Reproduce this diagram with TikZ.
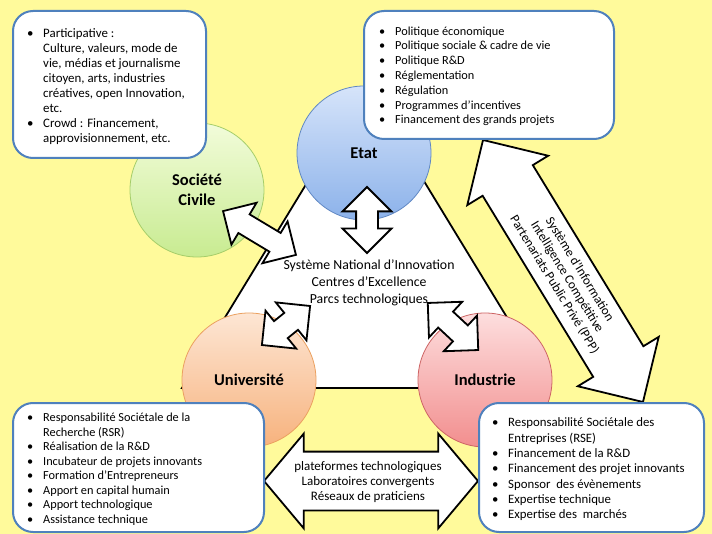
\documentclass[tikz,border=0pt]{standalone}
\usepackage{fontspec}
\setmainfont{Carlito}
\usetikzlibrary{shapes.arrows}
\definecolor{bg}{RGB}{255,250,155}
\definecolor{boxblue}{RGB}{79,129,189}
\definecolor{etatT}{RGB}{214,228,250}
\definecolor{etatB}{RGB}{140,178,234}
\definecolor{etatD}{RGB}{95,135,195}
\definecolor{socT}{RGB}{242,252,218}
\definecolor{socB}{RGB}{200,235,145}
\definecolor{socD}{RGB}{165,205,105}
\definecolor{uniT}{RGB}{253,230,212}
\definecolor{uniB}{RGB}{247,178,125}
\definecolor{uniD}{RGB}{235,160,95}
\definecolor{indT}{RGB}{253,222,222}
\definecolor{indB}{RGB}{242,142,142}
\definecolor{indD}{RGB}{205,100,100}
\newcommand{\bul}{\makebox[16pt][l]{\textbullet}}
\newcommand{\ind}{\hspace*{16pt}}
\tikzset{
  infobox/.style={draw=boxblue, line width=2pt, fill=white, rounded corners=20pt, anchor=north west, inner sep=0pt},
  listtext/.style={anchor=north west, inner sep=0pt, align=left, font=\fontsize{12.3}{14.8}\selectfont},
  circ/.style={circle, minimum size=134pt, inner sep=0pt, line width=0.8pt, align=center, font=\bfseries\fontsize{16.5}{19.5}\selectfont},
  blockarrow/.style={double arrow, draw=black, line width=1.8pt, fill=white, inner xsep=0pt, inner ysep=10pt, double arrow head extend=13.5pt, minimum width=47pt},
  bigarrow/.style={double arrow, draw=black, line width=1.8pt, fill=white, inner xsep=0pt, inner ysep=28.5pt, double arrow head extend=18pt, minimum width=93pt},
  arrowtext/.style={align=center, inner sep=0pt, font=\fontsize{13}{14.8}\selectfont},
}
\begin{document}
\begin{tikzpicture}[x=1pt,y=-1pt]
\useasboundingbox (0,0) rectangle (712,534);
\fill[bg] (0,0) rectangle (712,534);
% triangle
\coordinate (tA) at (366,86);
\coordinate (tB) at (182,388);
\coordinate (tC) at (550,388);
\draw[fill=white, line width=1.8pt] (tA) -- (tB) -- (tC) -- cycle;
% circles
\node[circ, top color=etatT, bottom color=etatB, draw=etatD] (etat) at (364,153) {Etat};
\node[circ, top color=socT, bottom color=socB, draw=socD] (soc) at (197,190) {Société\\Civile};
\node[circ, top color=uniT, bottom color=uniB, draw=uniD] (uni) at (249,380) {Université};
\node[circ, top color=indT, bottom color=indB, draw=indD] (ind) at (485,380) {Industrie};
% centre text
\node[align=center, inner sep=0pt, font=\fontsize{13.8}{17}\selectfont] (sni) at (369,283) {Système National d’Innovation\\Centres d’Excellence\\Parcs technologiques};
% small block arrows
\node[blockarrow, rotate=90, minimum height=66pt] (aE) at (367,220) {};
\node[blockarrow, rotate=-31, minimum height=85pt] (aS) at (259.5,233) {};
\node[blockarrow, rotate=39, minimum height=62pt] (aU) at (286,325.5) {};
\node[blockarrow, rotate=-43, minimum height=69pt] (aI) at (453,326.5) {};
% long arrow
\node[bigarrow, rotate=-58.6, minimum height=307pt] (aL) at (563,271) {};
\node[arrowtext, rotate=-58.6] (tL) at ([shift={(4,6)}]aL.center) {Système d’Information\\Intelligence Compétitive\\Partenariats Public Privé (PPP)};
% bottom arrow
\node[bigarrow, double arrow tip angle=100, minimum height=214pt] (aB) at (371,481) {};
\node[arrowtext] (tB2) at ([shift={(-3,1)}]aB.center) {plateformes technologiques\\Laboratoires convergents\\Réseaux de praticiens};
% boxes
\node[infobox, minimum width=193pt, minimum height=147pt] (b1) at (12,10) {};
\node[listtext, font=\fontsize{12.9}{15}\selectfont] (t1) at ([shift={(15,16.8)}]b1.north west) {\strut\bul Participative :\\
\ind Culture, valeurs, mode de\\
\ind vie, médias et journalisme\\
\ind citoyen, arts, industries\\
\ind créatives, open Innovation,\\
\ind etc.\\
\bul Crowd : Financement,\\
\ind approvisionnement, etc.};
\node[infobox, minimum width=250pt, minimum height=128pt] (b2) at (363,10) {};
\node[listtext] (t2) at ([shift={(16,14.5)}]b2.north west) {\strut\bul Politique économique\\
\bul Politique sociale \& cadre de vie\\
\bul Politique R\&D\\
\bul Réglementation\\
\bul Régulation\\
\bul Programmes d’incentives\\
\bul Financement des grands projets};
\node[infobox, minimum width=251pt, minimum height=129pt] (b3) at (12,402) {};
\node[listtext, font=\fontsize{12.3}{14.5}\selectfont] (t3) at ([shift={(15,9.2)}]b3.north west) {\strut\bul Responsabilité Sociétale de la\\
\ind Recherche (RSR)\\
\bul Réalisation de la R\&D\\
\bul Incubateur de projets innovants\\
\bul Formation d’Entrepreneurs\\
\bul Apport en capital humain\\
\bul Apport technologique\\
\bul Assistance technique};
\node[infobox, minimum width=225pt, minimum height=129pt] (b4) at (478,402) {};
\node[listtext, font=\fontsize{12.8}{15.3}\selectfont] (t4) at ([shift={(14,14)}]b4.north west) {\strut\bul Responsabilité Sociétale des\\
\ind Entreprises (RSE)\\
\bul Financement de la R\&D\\
\bul Financement des projet innovants\\
\bul Sponsor\ \ des évènements\\
\bul Expertise technique\\
\bul Expertise des\ \ marchés};
\end{tikzpicture}
\end{document}
